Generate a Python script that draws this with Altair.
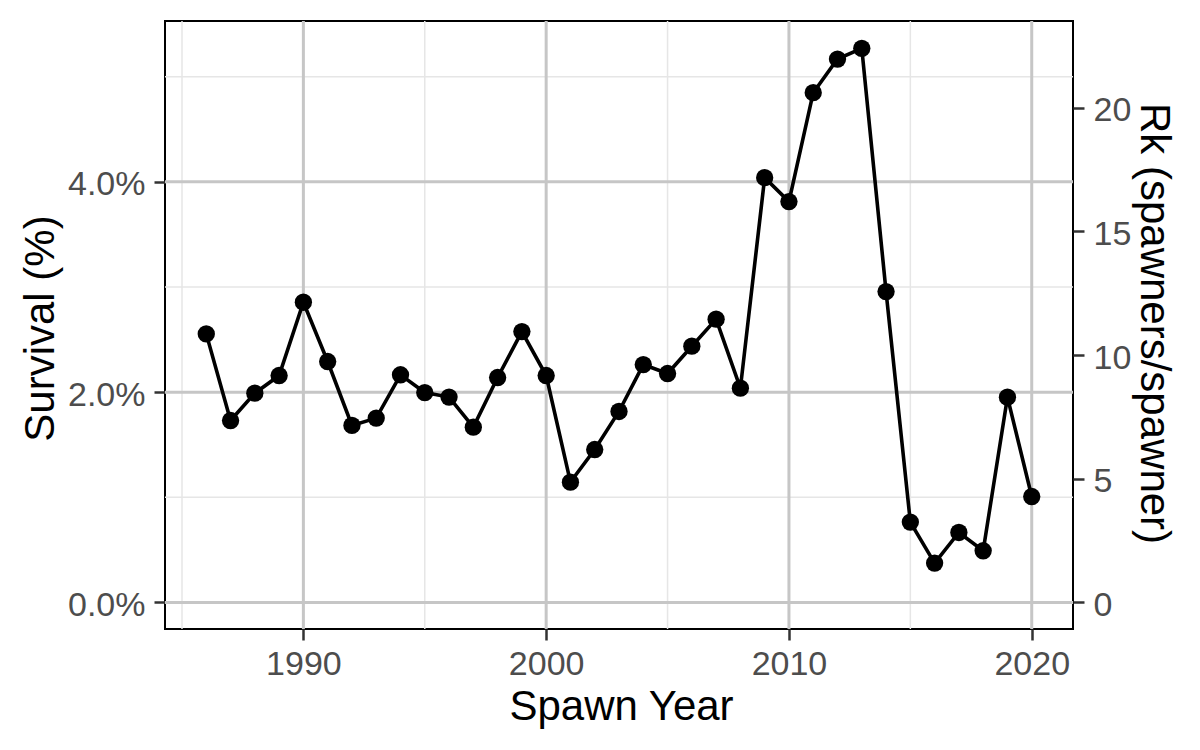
import altair as alt
import pandas as pd

# ---- data ----
years = [1986, 1987, 1988, 1989, 1990, 1991, 1992, 1993, 1994, 1995,
         1996, 1997, 1998, 1999, 2000, 2001, 2002, 2003, 2004, 2005,
         2006, 2007, 2008, 2009, 2010, 2011, 2012, 2013, 2014, 2015,
         2016, 2017, 2018, 2019, 2020]
survival_pct = [2.554, 1.730, 1.990, 2.158, 2.855, 2.291, 1.683, 1.753, 2.165, 1.996,
                1.953, 1.667, 2.139, 2.576, 2.158, 1.144, 1.454, 1.816, 2.262, 2.177,
                2.437, 2.694, 2.038, 4.040, 3.812, 4.848, 5.168, 5.270, 2.956, 0.764,
                0.374, 0.665, 0.491, 1.952, 1.007]

# secondary axis: Rk = survival(%) * factor
RK_PER_PCT = 4.25

x_major = [1990, 2000, 2010, 2020]
x_minor = [1985, 1995, 2005, 2015]
y_major = [0, 2, 4]
y_minor = [1, 3, 5]
rk_ticks = [0, 5, 10, 15, 20]

x_domain = [1984.3, 2021.7]
y_domain = [-0.253, 5.53]

df = pd.DataFrame({"year": years, "survival": survival_pct})
gx_major = pd.DataFrame({"year": x_major})
gx_minor = pd.DataFrame({"year": x_minor})
gy_major = pd.DataFrame({"survival": y_major})
gy_minor = pd.DataFrame({"survival": y_minor})

FONT = "Liberation Sans"
W, H = 908, 608

xscale = alt.Scale(domain=x_domain, nice=False, zero=False)
yscale = alt.Scale(domain=y_domain, nice=False, zero=False)

MAJOR_C = "#C6C6C6"
MINOR_C = "#E6E6E6"

common_axis = dict(
    domain=False, grid=False, tickColor="#333333", tickWidth=2.5, tickSize=11,
    labelFont=FONT, labelFontSize=34, labelColor="#4D4D4D",
    titleFont=FONT, titleFontSize=42, titleColor="black", titleFontWeight="normal",
)

x_axis = alt.Axis(values=x_major, format="d", title="Spawn Year",
                  labelBaseline="alphabetic", labelPadding=34,
                  titleX=456, titleY=90, titleBaseline="alphabetic",
                  titleAlign="center", **common_axis)
y_axis = alt.Axis(values=y_major, title="Survival (%)",
                  labelExpr="format(datum.value, '.1f') + '%'",
                  labelPadding=9, labelOffset=3,
                  titleAngle=-90, titleX=-125, titleY=307,
                  titleBaseline="middle", titleAlign="center",
                  **common_axis)

X = alt.X("year:Q", scale=xscale, axis=x_axis)
Y = alt.Y("survival:Q", scale=yscale, axis=y_axis)

minor_x = alt.Chart(gx_minor).mark_rule(color=MINOR_C, strokeWidth=1.5).encode(x=X)
minor_y = alt.Chart(gy_minor).mark_rule(color=MINOR_C, strokeWidth=1.5).encode(y=Y)
major_x = alt.Chart(gx_major).mark_rule(color=MAJOR_C, strokeWidth=3).encode(x=X)
major_y = alt.Chart(gy_major).mark_rule(color=MAJOR_C, strokeWidth=3).encode(y=Y)

line = alt.Chart(df).mark_line(color="black", strokeWidth=3.6).encode(x=X, y=Y)
points = alt.Chart(df).mark_circle(color="black", size=300, opacity=1).encode(x=X, y=Y)

left = alt.layer(minor_x, minor_y, major_x, major_y, line, points)

right = alt.Chart(df).transform_calculate(
    rk=f"datum.survival * {RK_PER_PCT}"
).mark_point(opacity=0).encode(
    x=X,
    y=alt.Y("rk:Q",
            scale=alt.Scale(domain=[y_domain[0] * RK_PER_PCT, y_domain[1] * RK_PER_PCT],
                            nice=False, zero=False),
            axis=alt.Axis(orient="right", values=rk_ticks, format="d",
                          title="Rk (spawners/spawner)",
                          labelPadding=9, labelOffset=3,
                          titleAngle=90, titleX=80, titleY=302,
                          titleBaseline="middle", titleAlign="center",
                          **common_axis)),
)

chart = alt.layer(left, right).resolve_scale(y="independent").properties(
    width=W, height=H,
    autosize=alt.AutoSizeParams(type="none"),
    padding={"left": 165, "top": 21, "right": 127, "bottom": 121},
    background="white",
).configure_view(stroke="black", strokeWidth=2)

chart.save("out.html", embed_options={"renderer": "svg", "actions": False})
